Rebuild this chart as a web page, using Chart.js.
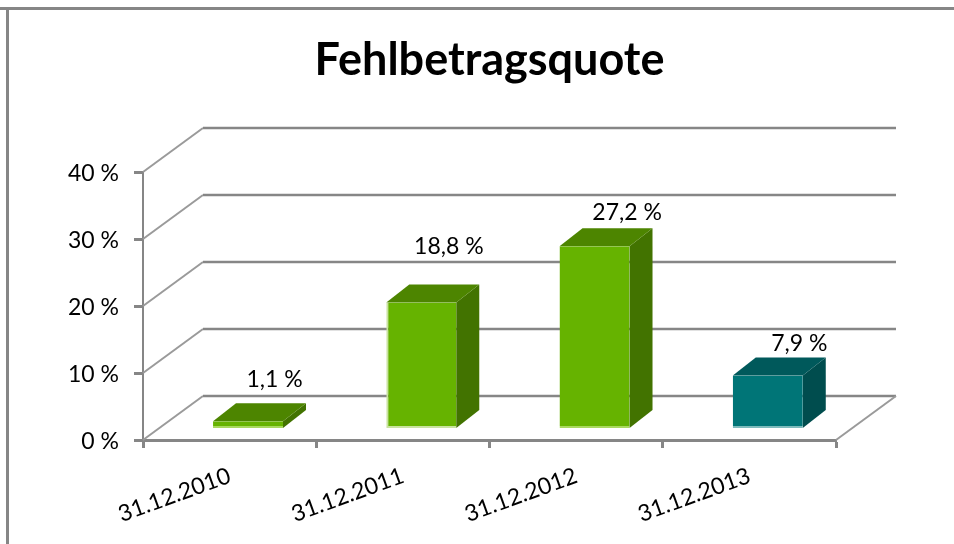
<!DOCTYPE html>
<html>
<head>
<meta charset="utf-8">
<title>Fehlbetragsquote</title>
<script src="https://cdn.jsdelivr.net/npm/chart.js@4"></script>
<style>
  html, body { margin: 0; padding: 0; background: #fff; }
  canvas { display: block; }
</style>
</head>
<body>
<canvas id="chart" width="954" height="544"></canvas>
<script>
const categories = ["31.12.2010", "31.12.2011", "31.12.2012", "31.12.2013"]
const quote = [1.1, 18.8, 27.2, 7.9]
const quoteLabels = ["1,1 %", "18,8 %", "27,2 %", "7,9 %"]

const frontColors = ["#66B300", "#66B300", "#66B300", "#007577"]
const edgeColors = ["#A9D95F", "#C9E3A0", "#A9D95F", "#7DBBBC"]
const topColors = ["#4D8500", "#4D8500", "#4D8500", "#00595B"]
const sideColors = ["#427300", "#427300", "#427300", "#004D4E"]

const axisGrey = "#868686"
const fontName = "Lato, Carlito, sans-serif"

function face(ctx, color, pts) {
  ctx.fillStyle = color
  ctx.beginPath()
  pts.forEach(function(p, i) {
    if (i === 0) ctx.moveTo(p[0], p[1])
    else ctx.lineTo(p[0], p[1])
  })
  ctx.closePath()
  ctx.fill()
}

function line(ctx, x1, y1, x2, y2, width) {
  ctx.lineWidth = width
  ctx.beginPath()
  ctx.moveTo(x1, y1)
  ctx.lineTo(x2, y2)
  ctx.stroke()
}

// fake 3D, Chart.js has no such bar type: walls and box faces hang off the real scales/bars
const box3d = {
  id: "box3d",
  beforeDatasetsDraw(chart) {
    const ctx = chart.ctx
    const area = chart.chartArea
    const wallX = 60, wallY = -44
    const barShiftX = 18.4, barShiftY = -11.5
    const depthX = 23, depthY = -18

    ctx.save()
    ctx.strokeStyle = axisGrey
    // frame of the picture
    line(ctx, 0, 8.5, 954, 8.5, 3)
    line(ctx, 7.5, 8, 7.5, 544, 3)

    chart.scales.y.ticks.forEach(function(t) {
      const y = chart.scales.y.getPixelForValue(t.value)
      ctx.strokeStyle = "#9A9A9A"
      line(ctx, area.left, y, area.left + wallX, y + wallY, 2)
      ctx.strokeStyle = axisGrey
      line(ctx, area.left + wallX, y + wallY, area.right + wallX, y + wallY, 2.5)
    })
    ctx.strokeStyle = "#9A9A9A"
    line(ctx, area.right, area.bottom, area.right + wallX, area.bottom + wallY, 2)

    const bars = chart.getDatasetMeta(0).data
    bars.forEach(function(bar, i) {
      const l = bar.x - bar.width / 2 + barShiftX
      const r = bar.x + bar.width / 2 + barShiftX
      const t = bar.y + barShiftY
      const b = bar.base + barShiftY
      face(ctx, sideColors[i], [[r, t], [r + depthX, t + depthY], [r + depthX, b + depthY], [r, b]])
      face(ctx, topColors[i], [[l, t], [l + depthX, t + depthY], [r + depthX, t + depthY], [r, t]])
    })
    ctx.restore()

    ctx.save()
    ctx.translate(barShiftX, barShiftY)
  },
  afterDatasetsDraw(chart) {
    const ctx = chart.ctx
    ctx.restore()

    // label spots were moved by hand in the original, so each has its own offset
    const labelDx = [45, 46, 51, 50]
    const labelDy = [-53, -67, -45, -43]
    ctx.save()
    ctx.fillStyle = "#000"
    ctx.font = "23px " + fontName
    ctx.textAlign = "center"
    ctx.textBaseline = "middle"
    chart.getDatasetMeta(0).data.forEach(function(bar, i) {
      ctx.fillText(quoteLabels[i], bar.x + labelDx[i], bar.y + labelDy[i])
    })
    ctx.restore()
  }
}

new Chart(document.getElementById("chart"), {
  type: "bar",
  plugins: [box3d],
  data: {
    labels: categories,
    datasets: [{
      label: "Fehlbetragsquote",
      data: quote,
      backgroundColor: frontColors,
      borderColor: edgeColors,
      borderWidth: function(c) {
        return { bottom: 2, left: c.dataIndex === 1 ? 2 : 0 }
      },
      borderSkipped: false,
      barPercentage: 0.404,
      categoryPercentage: 1,
      clip: false
    }]
  },
  options: {
    responsive: false,
    animation: false,
    layout: { padding: { left: 0, right: 118, top: 0, bottom: 0 } },
    plugins: {
      legend: { display: false },
      tooltip: { enabled: false },
      title: {
        display: true,
        text: "Fehlbetragsquote",
        fullSize: false,
        color: "#000",
        font: { family: fontName, size: 45, weight: "bold", lineHeight: 1.2 },
        padding: { top: 33, bottom: 85 }
      }
    },
    scales: {
      x: {
        afterFit: function(scale) { scale.height = 104 },
        border: { color: axisGrey, width: 3 },
        grid: { drawOnChartArea: false, drawTicks: true, tickLength: 8, tickWidth: 3, tickColor: axisGrey },
        ticks: {
          color: "#000",
          font: { family: fontName, size: 23 },
          minRotation: 20,
          maxRotation: 20,
          padding: 14
        }
      },
      y: {
        min: 0,
        max: 40,
        afterFit: function(scale) { scale.width = 143 },
        border: { color: axisGrey, width: 2 },
        grid: { drawOnChartArea: false, drawTicks: true, tickLength: 9, tickWidth: 3, tickColor: axisGrey },
        ticks: {
          stepSize: 10,
          color: "#000",
          font: { family: fontName, size: 23 },
          padding: 15,
          labelOffset: 2,
          callback: function(v) { return v + " %" }
        }
      }
    }
  }
})
</script>
</body>
</html>
